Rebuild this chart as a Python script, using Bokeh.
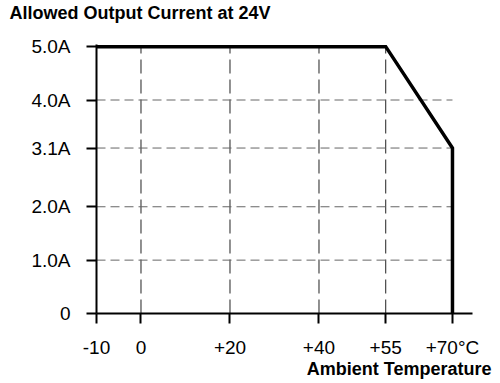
from bokeh.plotting import figure
from bokeh.models import FixedTicker, Range1d, Title
from bokeh.embed import file_html
from bokeh.resources import INLINE

# ---- data ----
temps = [-10, 55, 70, 70]
currents = [5.0, 5.0, 3.1, 0.0]
x_ticks = [-10, 0, 20, 40, 55, 70]
x_labels = ["-10", "0", "+20", "+40", "+55", "+70°C"]
y_ticks = [0, 1.0, 2.0, 3.1, 4.0, 5.0]
y_labels = ["0", "1.0A", "2.0A", "3.1A", "4.0A", "5.0A"]
title_text = "Allowed Output Current at 24V"
xlabel_text = "Ambient Temperature"

FONT = "Liberation Sans"

p = figure(frame_width=376, frame_height=269,
           x_range=Range1d(-10, 74.5), y_range=Range1d(0, 5.04),
           output_backend="svg", toolbar_location=None,
           min_border_left=96, min_border_top=44, min_border_right=20,
           min_border_bottom=68)
p.outline_line_color = None
p.xgrid.visible = False
p.ygrid.visible = False
p.background_fill_color = "white"
p.border_fill_color = "white"
p.title_location = None

# spacer between frame and title (first added = nearest the frame)
spacer = Title(text=" ", text_font_size="1px", standoff=16)
p.add_layout(spacer, "above")
# main title
t1 = Title(text=title_text, align="left", vertical_align="top", standoff=2,
           offset=-87, text_font=FONT, text_font_size="18px",
           text_font_style="bold", text_color="black")
p.add_layout(t1, "above")

# axes
for ax in (p.xaxis[0], p.yaxis[0]):
    ax.axis_line_width = 2
    ax.axis_line_color = "black"
    ax.major_tick_line_width = 2
    ax.major_tick_line_color = "black"
    ax.major_tick_in = 0
    ax.major_tick_out = 10
    ax.minor_tick_line_color = None
    ax.major_label_text_font = FONT
    ax.major_label_text_font_size = "19px"
    ax.major_label_text_color = "black"

p.xaxis[0].ticker = FixedTicker(ticks=x_ticks)
p.xaxis[0].major_label_overrides = {t: l for t, l in zip(x_ticks, x_labels)}
p.xaxis[0].major_label_standoff = 13
p.yaxis[0].ticker = FixedTicker(ticks=y_ticks)
p.yaxis[0].major_label_overrides = {t: l for t, l in zip(y_ticks, y_labels)}
p.yaxis[0].major_label_standoff = 16

# dashed grid lines
vx = [t for t in x_ticks if x_ticks[0] < t < x_ticks[-1]]
p.segment(x0=vx, x1=vx, y0=[y_ticks[0]] * len(vx), y1=[y_ticks[-1]] * len(vx),
          line_color="#222222", line_width=1, line_dash="14 6")
hy = [t for t in y_ticks if y_ticks[0] < t < y_ticks[-1]]
p.segment(x0=[x_ticks[0]] * len(hy), x1=[x_ticks[-1]] * len(hy), y0=hy, y1=hy,
          line_color="#666666", line_width=1, line_dash="9 5")

# derating curve
p.line(temps, currents, line_color="black", line_width=3.5, line_join="miter")

# x axis label at right
t2 = Title(text=xlabel_text, align="right", offset=-19, text_font=FONT,
           text_font_size="18px", text_font_style="bold", text_color="black",
           vertical_align="top", standoff=-4)
p.add_layout(t2, "below")

open("out.html", "w").write(file_html(p, INLINE))
